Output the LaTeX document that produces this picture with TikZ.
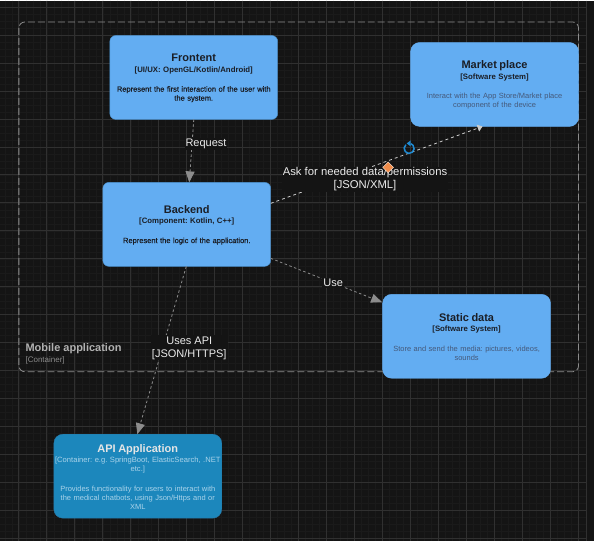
\documentclass[tikz,border=0pt]{standalone}
\usepackage{fontspec}
\setmainfont{Liberation Sans}
\newfontfamily\heavyfont{Liberation Sans}[FakeBold=0.6]
\usepackage{tikz}
\usetikzlibrary{positioning}
\usetikzlibrary{arrows.meta}
\usetikzlibrary{shapes.geometric}
\definecolor{canvas}{HTML}{141414}
\definecolor{gridmajor}{HTML}{303030}
\definecolor{gridminor}{HTML}{1A1A1A}
\definecolor{sky}{HTML}{63ADF2}
\definecolor{skyline}{HTML}{4A90CC}
\definecolor{ocean}{HTML}{1C87BC}
\definecolor{oceanline}{HTML}{2A79A8}
\definecolor{inkdark}{HTML}{1A1E26}
\definecolor{inkgrey}{HTML}{45597A}
\definecolor{inkpale}{HTML}{A9D3EA}
\definecolor{wire}{HTML}{8C8C8C}
\definecolor{refreshblue}{HTML}{1E8AD2}
\definecolor{marker}{HTML}{F08D4B}
\newcommand{\boxtext}[3]{\rule{0pt}{9pt}{\fontsize{11}{11}\selectfont\bfseries #1}\\[1.5pt]{\fontsize{7.8}{9}\selectfont\bfseries #2}\\[10.5pt]#3}
\begin{document}
\begin{tikzpicture}[
		x=1pt, y=-1pt,
		block/.style={rectangle, rounded corners=6pt, draw=skyline, fill=sky, text=inkdark, text width=168pt, align=center, minimum width=168pt, minimum height=84pt, inner sep=0pt, outer sep=0pt, font=\fontsize{7.5}{9}\selectfont\frenchspacing},
		softblock/.style={block, rounded corners=9pt, draw=sky},
		apiblock/.style={block, rounded corners=9pt, draw=oceanline, fill=ocean, text=inkpale},
		arrow/.style={-{Triangle[length=11pt, width=9pt]}, wire, dashed, dash pattern=on 2.5pt off 2.5pt, line width=0.8pt},
		whitearrow/.style={-{Triangle[length=5pt, width=7pt]}, white!80!black, dashed, dash pattern=on 3pt off 3pt, line width=0.8pt},
		edgelabel/.style={fill=canvas, text=white!92!black, align=center, inner xsep=1pt, inner ysep=1pt, font=\fontsize{11}{13}\selectfont}
	]
		% background
		\fill[canvas] (0,0) rectangle (594,541);
		\foreach \x in {4.5,11.5,...,585} \draw[gridminor, line width=0.6pt] (\x,0) -- (\x,541);
		\foreach \y in {6.5,13.5,...,541} \draw[gridminor, line width=0.6pt] (0,\y) -- (586,\y);
		\foreach \x in {18.5,46.5,...,585} \draw[gridmajor, line width=0.8pt] (\x,0) -- (\x,541);
		\foreach \y in {6.5,34.5,...,541} \draw[gridmajor, line width=0.8pt] (0,\y) -- (586,\y);
		\draw[gridmajor, line width=1pt] (586.5,0) -- (586.5,541);
		\useasboundingbox (0,0) rectangle (594,541);

		% container
		\draw[wire, dashed, dash pattern=on 7pt off 3pt, line width=0.8pt, rounded corners=6pt] (18.5,21.5) rectangle (578.5,371.5);
		\node[anchor=west, text=white!70!black, inner sep=0pt, font=\fontsize{11}{13}\selectfont\bfseries] (mobile) at (25,348) {Mobile application};
		\node[below=2.5pt of mobile.south west, anchor=north west, text=wire, inner sep=0pt, font=\fontsize{8}{9}\selectfont] (mobiletype) {[Container]};

		% boxes
		\node[block] (front) at (193.5,77) {\boxtext{Frontent}{[UI/UX: OpenGL/Kotlin/Android]}{\heavyfont Represent the first interaction of the user with\\the system.}};
		\node[block, below=63pt of front, xshift=-7pt] (back) {\boxtext{Backend}{[Component: Kotlin, C++]}{\heavyfont Represent the logic of the application.}};
		\node[softblock, right=133pt of front, yshift=-7pt] (market) {\boxtext{Market place}{[Software System]}{\textcolor{inkgrey}{Interact with the App Store/Market place\\component of the device}}};
		\node[softblock, below=168pt of market, xshift=-28pt] (static) {\boxtext{Static data}{[Software System]}{\textcolor{inkgrey}{Store and send the media: pictures, videos,\\sounds}}};
		\node[apiblock, below=168pt of back, xshift=-49pt] (api) {\rule{0pt}{9pt}{\fontsize{11}{11}\selectfont\bfseries\textcolor{white!90!black}{API Application}}\\[1.5pt]{\fontsize{7.6}{9}\selectfont[Container: e.g. SpringBoot, ElasticSearch, .NET\\etc.]}\\[10.5pt]Provides functionality for users to interact with\\the medical chatbots, using Json/Https and or\\XML};

		% connectors
		\draw[arrow] (front.south) -- node[edgelabel, pos=0.39, xshift=14pt] (request) {Request} ([xshift=2.5pt]back.north);
		\draw[arrow] (back.east |- 0,258) -- node[edgelabel, pos=0.56] (use) {Use} ([xshift=-84.5pt,yshift=-8pt]static.north);
		\draw[arrow] ([xshift=-0.5pt]back.south) -- node[edgelabel, pos=0.48, xshift=26.5pt, yshift=-1pt] (usesapi) {Uses API\\{[JSON/HTTPS]}} ([xshift=-0.5pt]api.north -| 137.5,0);
		\draw[whitearrow] ([yshift=21pt]back.east) -- node[edgelabel, pos=0.445, yshift=-10pt, font=\fontsize{11.3}{12.5}\selectfont] (ask) {Ask for needed data/permissions\\{[JSON/XML]}} ([xshift=-12pt]market.south);

		% marker and refresh icon
		\node[diamond, fill=marker, draw=white!85!marker, line width=0.4pt, minimum size=11pt, inner sep=0pt] (mark) at (388,167) {};
		\coordinate (refresh) at (409,148);
		\draw[refreshblue, line width=1.5pt] ([xshift=-3.2pt,yshift=3.8pt]refresh) arc[start angle=130, end angle=430, radius=5pt];
		\fill[refreshblue] ([xshift=-2.5pt,yshift=5pt]refresh) -- ([xshift=1.5pt,yshift=8pt]refresh) -- ([xshift=1.5pt,yshift=2pt]refresh) -- cycle;
	\end{tikzpicture}
\end{document}
